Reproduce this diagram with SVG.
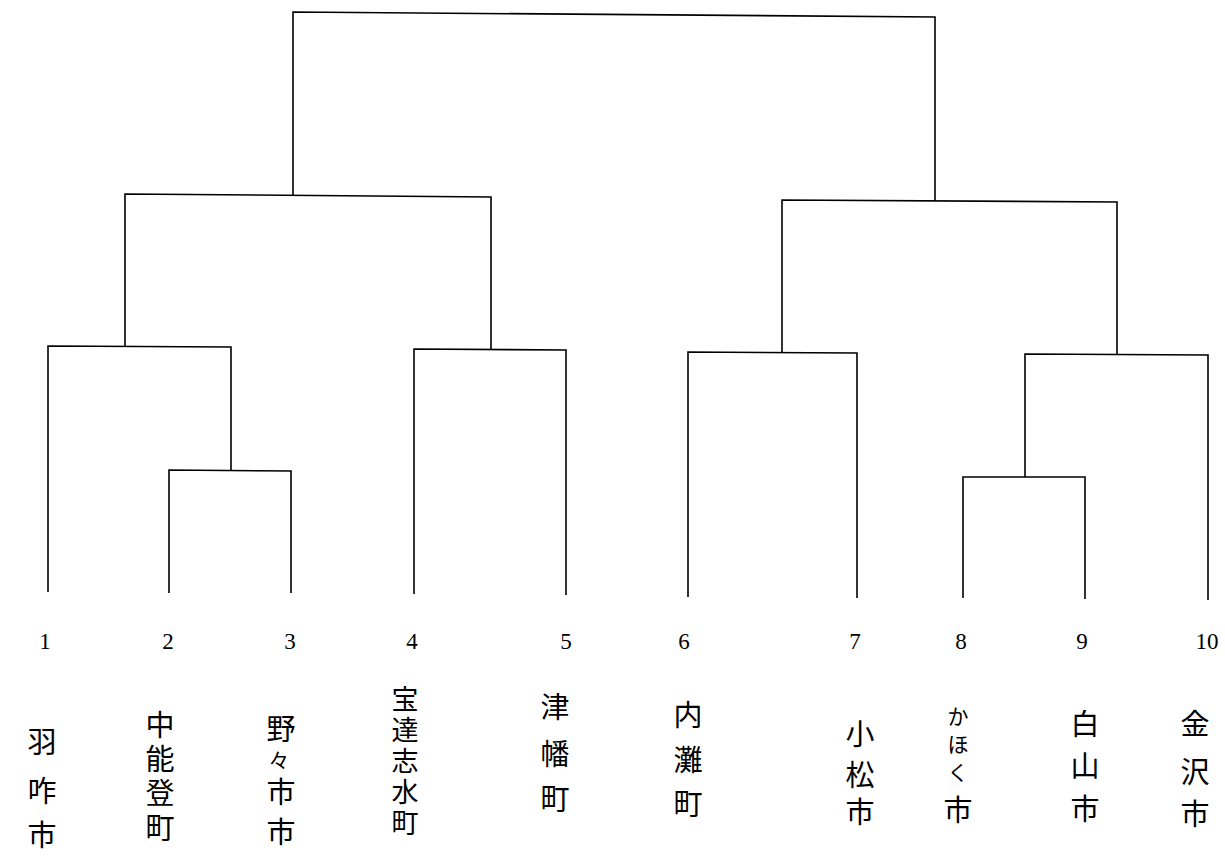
<svg xmlns="http://www.w3.org/2000/svg" width="1225" height="859" viewBox="0 0 1225 859">
<style>
.br{fill:none;stroke:#000;stroke-width:1.6;stroke-linejoin:miter}
.num{font-family:"Liberation Serif",serif;font-size:23px;fill:#000;text-anchor:middle}
.jp{font-family:"Liberation Sans","Noto Sans CJK JP",sans-serif;font-size:29px;fill:#000;text-anchor:middle}
.sm{font-size:27px}
.kn{font-size:21px}
</style>
<rect width="1225" height="859" fill="#fff"/>
<g id="connectors">
<polyline class="br" points="293,195 293,12 935,17 935,201"/>
<polyline class="br" points="125,346 125,194 491,197 491,349"/>
<polyline class="br" points="782,352 782,200 1117,202 1117,354"/>
<polyline class="br" points="48,592 48,346 231,347 231,470"/>
<polyline class="br" points="414,594 414,349 566,350 566,595"/>
<polyline class="br" points="688,597 688,352 857,353 857,598"/>
<polyline class="br" points="1025,477 1025,354 1208,355 1208,600"/>
<polyline class="br" points="169,593 169,470 291,471 291,593"/>
<polyline class="br" points="963,598 963,477 1085,477 1085,599"/>
</g>
<g id="leaf1"><text class="num" x="45" y="649">1</text>
<text class="jp" x="42" y="753">羽</text><text class="jp" x="42" y="802">咋</text><text class="jp" x="42" y="846">市</text></g>
<g id="leaf2"><text class="num" x="168" y="649">2</text>
<text class="jp" x="160" y="736">中</text><text class="jp" x="160" y="770">能</text><text class="jp" x="160" y="804">登</text><text class="jp" x="160" y="839">町</text></g>
<g id="leaf3"><text class="num" x="290" y="649">3</text>
<text class="jp" x="281" y="740">野</text><text class="jp kn" x="279" y="768">々</text><text class="jp" x="281" y="803">市</text><text class="jp" x="281" y="843">市</text></g>
<g id="leaf4"><text class="num" x="412" y="649">4</text>
<text class="jp sm" x="405" y="709">宝</text><text class="jp sm" x="405" y="740">達</text><text class="jp sm" x="405" y="771">志</text><text class="jp sm" x="405" y="802">水</text><text class="jp sm" x="405" y="833">町</text></g>
<g id="leaf5"><text class="num" x="566" y="649">5</text>
<text class="jp" x="555" y="718">津</text><text class="jp" x="555" y="765">幡</text><text class="jp" x="555" y="810">町</text></g>
<g id="leaf6"><text class="num" x="684" y="649">6</text>
<text class="jp" x="688" y="726">内</text><text class="jp" x="688" y="771">灘</text><text class="jp" x="688" y="815">町</text></g>
<g id="leaf7"><text class="num" x="855" y="649">7</text>
<text class="jp" x="860" y="745">小</text><text class="jp" x="860" y="786">松</text><text class="jp" x="860" y="823">市</text></g>
<g id="leaf8"><text class="num" x="961" y="649">8</text>
<text class="jp kn" x="958" y="724">か</text><text class="jp kn" x="958" y="752">ほ</text><text class="jp kn" x="958" y="780">く</text><text class="jp" x="958" y="821">市</text></g>
<g id="leaf9"><text class="num" x="1082" y="649">9</text>
<text class="jp" x="1085" y="735">白</text><text class="jp" x="1085" y="777">山</text><text class="jp" x="1085" y="820">市</text></g>
<g id="leaf10"><text class="num" x="1207" y="649">10</text>
<text class="jp" x="1195" y="735">金</text><text class="jp" x="1195" y="783">沢</text><text class="jp" x="1195" y="825">市</text></g>
</svg>
